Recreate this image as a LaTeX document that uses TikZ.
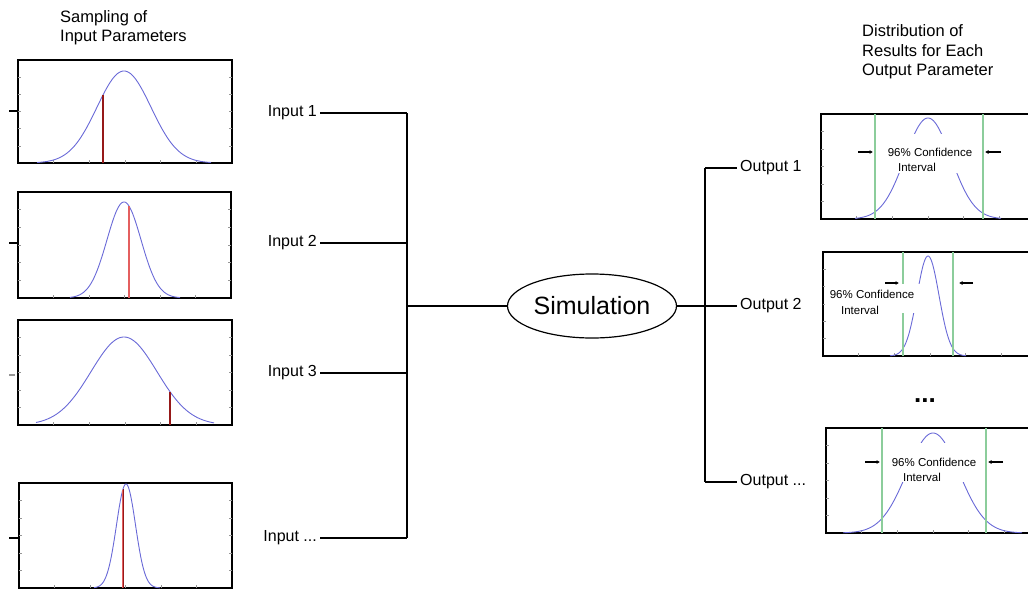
\documentclass[tikz,border=0pt]{standalone}
\usepackage{fontspec}
\setmainfont{Liberation Sans}
\usetikzlibrary{shapes.geometric,arrows.meta}
\definecolor{curveblue}{RGB}{105,105,215}
\definecolor{samplered}{RGB}{150,25,25}
\definecolor{lightred}{RGB}{228,95,95}
\definecolor{cigreen}{RGB}{140,205,155}
\definecolor{tickgray}{RGB}{150,150,150}

\newcommand{\panelbox}[4]{% x0 y0 x1 y1
  \draw[panelframe] (#1,#2) rectangle (#3,#4);
  \foreach \k in {1,...,5}{
    \draw[tickmark] ({#1+\k*(#3-#1)/6},#4) -- ++(0,-3);
    \draw[tickmark] (#1,{#2+\k*(#4-#2)/6}) -- ++(3,0);
    \draw[tickmark] (#3,{#2+\k*(#4-#2)/6}) -- ++(-3,0);
  }}
\newcommand{\bellcurve}[6]{% bottom, height, centre, sigma, from, to
  \draw[curveline] plot[domain=#5:#6, samples=120, smooth]
    (\x,{#1-#2*exp(-0.5*((\x-#3)/#4)*((\x-#3)/#4))});}
\newcommand{\sampleline}[6]{% x, bottom, height, centre, sigma, style
  \draw[#6] (#1,#2) -- (#1,{#2-#3*exp(-0.5*((#1-#4)/#5)*((#1-#4)/#5))});}

\begin{document}
\begin{tikzpicture}[x=1pt,y=-1pt,
  lbl/.style={font=\fontsize{16}{19}\selectfont, inner sep=3pt},
  ttl/.style={font=\fontsize{16.5}{19.5}\selectfont, align=left, inner sep=0pt, anchor=west},
  citext/.style={font=\fontsize{11.5}{13}\selectfont, inner sep=1pt},
  mask/.style={fill=white, draw=none},
  wire/.style={line width=1.3pt, black},
  panelframe/.style={line width=1.4pt, black},
  tickmark/.style={line width=0.5pt, tickgray},
  curveline/.style={line width=0.9pt, curveblue},
  redsample/.style={line width=1.6pt, samplered},
  lightsample/.style={line width=2pt, lightred},
  ciline/.style={line width=1.2pt, cigreen},
  ciarrow/.style={-{Latex[length=3.5pt,width=4pt]}, line width=1.4pt, black},
  outtick/.style={line width=1.3pt, black}
]
\useasboundingbox (0,0) rectangle (1028,589);
\clip (0,0) rectangle (1028,589);

% ---------- titles ----------
\node[ttl] (lefttitle) at (60,27.5) {Sampling of\\Input Parameters};
\node[ttl] (righttitle) at (862,52) {Distribution of\\Results for Each\\Output Parameter};

% ---------- input panels ----------
\panelbox{18}{60}{232}{163}
\bellcurve{163}{92}{124}{27}{37}{211}
\sampleline{103}{163}{92}{124}{27}{redsample}
\draw[outtick] (9,111) -- (18,111);

\panelbox{18}{192}{231}{298}
\bellcurve{298}{96}{124}{17}{70}{180}
\sampleline{129}{298}{96}{124}{17}{lightsample}
\draw[outtick] (9,243) -- (18,243);

\panelbox{18}{320}{232}{425}
\bellcurve{425}{88}{124}{33}{36}{214}
\sampleline{170}{425}{88}{124}{33}{redsample}
\draw[outtick, tickgray] (9,375) -- (15,375);

\panelbox{19}{483}{232}{588}
\bellcurve{588}{104}{126}{9.5}{94}{160}
\draw[lightred, line width=1.8pt] (123,588) -- (123,490);
\sampleline{123}{588}{104}{126}{9.5}{samplered, line width=0.9pt}
\draw[outtick] (9,538) -- (19,538);

% ---------- inputs ----------
\node[lbl, anchor=east] (in1) at (320,113) {Input 1};
\node[lbl, anchor=east] (in2) at (320,243) {Input 2};
\node[lbl, anchor=east] (in3) at (320,373) {Input 3};
\node[lbl, anchor=east] (in4) at (320,538) {Input ...};
\coordinate (b1) at (407,113);
\coordinate (b2) at (407,243);
\coordinate (b3) at (407,373);
\coordinate (b4) at (407,538);
\coordinate (bm) at (407,306);
\draw[wire] (in1.east) -- (b1);
\draw[wire] (in2.east) -- (b2);
\draw[wire] (in3.east) -- (b3);
\draw[wire] (in4.east) -- (b4);
\draw[wire] (b1) -- (b4);

% ---------- simulation ----------
\node[ellipse, draw, line width=1.2pt, minimum width=169pt, minimum height=64pt,
      font=\fontsize{25}{28}\selectfont, inner sep=0pt] (sim) at (592,306) {Simulation};
\draw[wire] (bm) -- (sim.west);

% ---------- outputs ----------
\node[lbl, anchor=west] (out1) at (737,168) {Output 1};
\node[lbl, anchor=west] (out2) at (737,306) {Output 2};
\node[lbl, anchor=west] (out3) at (737,482) {Output ...};
\coordinate (r1) at (705,168);
\coordinate (r3) at (705,482);
\draw[wire] (sim.east) -- (out2.west);
\draw[wire] (r1) -- (out1.west);
\draw[wire] (r3) -- (out3.west);
\draw[wire] (r1) -- (r3);

% ---------- output panel 1 ----------
\panelbox{821}{114}{1035}{219}
\bellcurve{219}{101}{928}{23}{855}{1001}
\fill[mask] (884,134) rectangle (976,173);
\draw[ciline] (875,114) -- (875,219);
\draw[ciline] (983,114) -- (983,219);
\node[citext] (ci1a) at (930,152) {96\% Confidence};
\node[citext] (ci1b) at (917,167) {Interval};
\coordinate (ci1l) at (858,152);
\coordinate (ci1r) at (1001,152);
\draw[ciarrow] (ci1l) -- (873,152);
\draw[ciarrow] (ci1r) -- (985,152);

% ---------- output panel 2 ----------
\panelbox{823}{252}{1037}{356}
\bellcurve{356}{100}{928}{11}{890}{966}
\fill[mask] (825,284) rectangle (921,313);
\draw[ciline] (903,252) -- (903,284);
\draw[ciline] (903,313) -- (903,356);
\draw[ciline] (953,252) -- (953,356);
\node[citext] (ci2a) at (872,294) {96\% Confidence};
\node[citext] (ci2b) at (860,310) {Interval};
\coordinate (ci2l) at (885,283);
\coordinate (ci2r) at (973,283);
\draw[ciarrow] (ci2l) -- (899,283);
\draw[ciarrow] (ci2r) -- (959,283);

% ---------- dots ----------
\node[font=\fontsize{26}{28}\selectfont\bfseries, inner sep=0pt] (dots) at (925,401) {...};

% ---------- output panel 3 ----------
\panelbox{826}{428}{1040}{533}
\bellcurve{533}{100}{933}{26}{843}{1022}
\fill[mask] (888,443) rectangle (982,482);
\draw[ciline] (882,428) -- (882,533);
\draw[ciline] (986,428) -- (986,533);
\node[citext] (ci3a) at (934,462) {96\% Confidence};
\node[citext] (ci3b) at (922,477) {Interval};
\coordinate (ci3l) at (865,462);
\coordinate (ci3r) at (1003,462);
\draw[ciarrow] (ci3l) -- (880,462);
\draw[ciarrow] (ci3r) -- (988,462);
\end{tikzpicture}
\end{document}
